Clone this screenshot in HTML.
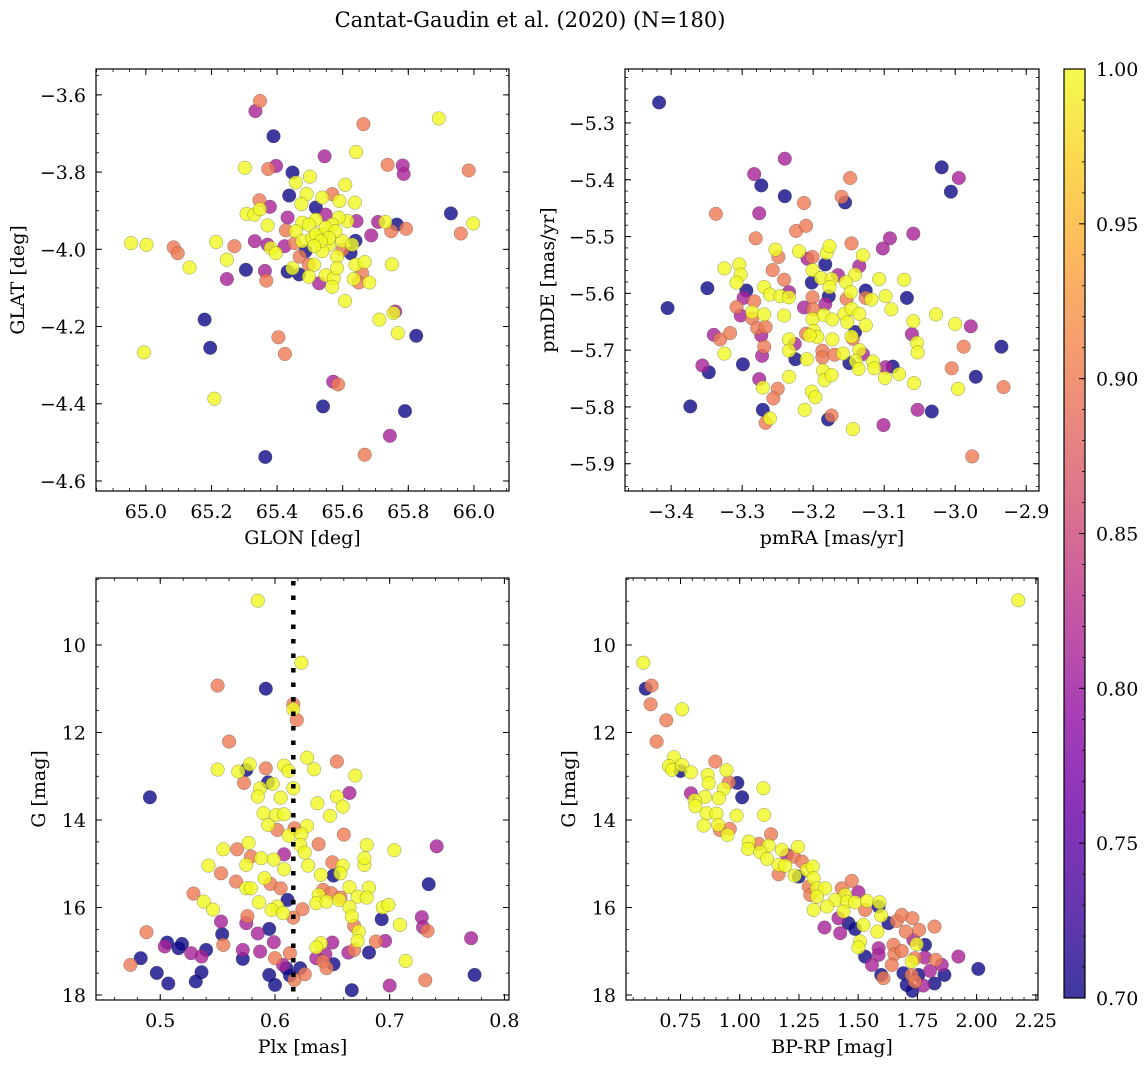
<!DOCTYPE html>
<html><head><meta charset="utf-8">
<style>
html,body{margin:0;padding:0;background:#fff;}
svg{display:block;font-family:"DejaVu Serif","Liberation Serif",serif;}
</style></head>
<body>
<svg id="fig" width="1148" height="1068" viewBox="0 0 1148 1068" xmlns="http://www.w3.org/2000/svg">
<defs>
<linearGradient id="plasmaGrad" x1="0" y1="1" x2="0" y2="0">
<stop offset="0" stop-color="#0d0887"/><stop offset="0.1" stop-color="#41049d"/><stop offset="0.2" stop-color="#6a00a8"/><stop offset="0.3" stop-color="#8f0da4"/><stop offset="0.4" stop-color="#b12a90"/><stop offset="0.5" stop-color="#cc4778"/><stop offset="0.6" stop-color="#e16462"/><stop offset="0.7" stop-color="#f2844b"/><stop offset="0.8" stop-color="#fca636"/><stop offset="0.9" stop-color="#fcce25"/><stop offset="1" stop-color="#f0f921"/>
</linearGradient>
</defs>
<text x="530" y="27" text-anchor="middle" font-size="21">Cantat-Gaudin et al. (2020) (N=180)</text>
</svg>
<script>
// colour codes: B=0.70, P=0.81, O=0.90, Y=1.00
const glonVals=[65.348,65.334,65.389,65.663,65.893,65.545,65.641,65.302,65.373,65.397,65.447,65.500,65.457,65.737,65.783,65.786,65.984,65.437,65.490,65.608,65.568,65.590,65.538,65.637,65.346,65.378,65.307,65.331,65.348,65.474,65.432,65.548,65.518,65.930,65.998,65.960,65.793,65.765,65.730,65.708,65.748,65.687,65.642,65.614,65.588,65.568,65.518,65.477,65.497,65.371,65.427,65.457,64.955,65.002,65.085,65.097,65.214,65.270,65.332,65.371,65.381,65.396,65.423,65.453,65.477,65.508,65.538,65.558,65.599,65.629,65.639,65.624,65.599,65.487,65.538,65.247,65.133,65.305,65.363,65.367,65.247,65.432,65.447,65.467,65.469,65.497,65.513,65.583,65.639,65.667,65.659,65.750,65.497,65.528,65.548,65.573,65.583,65.568,65.634,65.649,65.681,65.607,65.179,65.712,65.760,65.755,65.768,65.824,65.196,65.404,65.424,64.994,65.571,65.586,65.209,65.540,65.790,65.744,65.364,65.667,65.518,65.548,65.578,65.558,65.533,65.513];
const glatVals=[-3.616,-3.642,-3.707,-3.676,-3.661,-3.759,-3.748,-3.789,-3.792,-3.784,-3.801,-3.812,-3.827,-3.781,-3.783,-3.805,-3.796,-3.861,-3.857,-3.833,-3.857,-3.875,-3.866,-3.879,-3.873,-3.890,-3.908,-3.910,-3.896,-3.883,-3.918,-3.910,-3.892,-3.907,-3.933,-3.959,-3.947,-3.936,-3.929,-3.929,-3.953,-3.964,-3.927,-3.927,-3.918,-3.936,-3.923,-3.931,-3.936,-3.938,-3.951,-3.953,-3.984,-3.988,-3.995,-4.010,-3.981,-3.992,-3.979,-3.988,-3.997,-4.010,-3.992,-3.984,-3.979,-3.971,-3.962,-3.988,-3.979,-3.988,-3.978,-4.010,-4.001,-4.005,-4.005,-4.027,-4.047,-4.053,-4.056,-4.081,-4.077,-4.058,-4.049,-4.065,-4.019,-4.040,-4.040,-4.019,-4.040,-4.033,-4.062,-4.039,-4.071,-4.088,-4.067,-4.075,-4.049,-4.097,-4.077,-4.086,-4.086,-4.134,-4.182,-4.182,-4.161,-4.165,-4.217,-4.224,-4.255,-4.228,-4.271,-4.267,-4.343,-4.350,-4.387,-4.407,-4.419,-4.483,-4.538,-4.532,-3.962,-3.944,-3.953,-3.971,-3.979,-3.992];
const posProb="OPBOYPYYOPBYYOPPOBYYOYYYOPYYYYPPBBYOOBYPOPPYYYYYYYOYYYOOYOPPYYPOYYYYYYBBOBYYYBPOPBYBOOYYYYOYYPYYYYYOYYBYPYYBBOOYPOYBBPBOYYYYYY";

const pmraVals=[-3.417,-3.240,-3.283,-3.273,-3.240,-3.337,-3.276,-3.213,-3.148,-3.160,-3.155,-3.019,-2.995,-3.006,-3.224,-3.210,-3.281,-3.146,-3.092,-3.102,-3.059,-3.253,-3.249,-3.220,-3.201,-3.208,-3.181,-3.177,-3.183,-3.130,-3.135,-3.325,-3.304,-3.302,-3.308,-3.257,-3.241,-3.201,-3.202,-3.189,-3.174,-3.165,-3.141,-3.154,-3.177,-3.107,-3.072,-3.349,-3.405,-3.294,-3.298,-3.269,-3.261,-3.246,-3.234,-3.234,-3.201,-3.183,-3.178,-3.153,-3.147,-3.126,-3.126,-3.118,-3.098,-3.068,-3.090,-3.308,-3.283,-3.302,-3.286,-3.286,-3.269,-3.241,-3.213,-3.200,-3.201,-3.185,-3.173,-3.156,-3.146,-3.135,-3.126,-3.152,-3.027,-3.059,-3.000,-2.978,-3.340,-3.331,-3.317,-3.279,-3.267,-3.273,-3.210,-3.199,-3.194,-3.205,-3.173,-3.141,-3.146,-3.144,-3.061,-3.054,-3.053,-2.988,-2.935,-3.325,-3.272,-3.269,-3.234,-3.226,-3.234,-3.225,-3.209,-3.187,-3.187,-3.170,-3.158,-3.135,-3.130,-3.149,-3.140,-3.136,-3.116,-3.114,-3.098,-3.088,-3.099,-3.079,-3.058,-3.005,-2.971,-2.996,-2.932,-3.356,-3.347,-3.299,-3.276,-3.271,-3.250,-3.256,-3.234,-3.186,-3.184,-3.174,-3.202,-3.197,-3.212,-3.373,-3.271,-3.267,-3.261,-3.179,-3.174,-3.144,-3.101,-3.053,-3.033,-2.976];
const pmdeVals=[-5.264,-5.363,-5.390,-5.410,-5.429,-5.460,-5.459,-5.441,-5.397,-5.430,-5.440,-5.378,-5.397,-5.421,-5.490,-5.481,-5.503,-5.512,-5.503,-5.521,-5.495,-5.523,-5.536,-5.526,-5.536,-5.539,-5.529,-5.517,-5.549,-5.533,-5.552,-5.556,-5.549,-5.567,-5.581,-5.559,-5.576,-5.559,-5.581,-5.573,-5.575,-5.568,-5.567,-5.580,-5.589,-5.575,-5.576,-5.591,-5.626,-5.595,-5.608,-5.589,-5.602,-5.605,-5.598,-5.607,-5.607,-5.619,-5.605,-5.610,-5.598,-5.595,-5.608,-5.611,-5.605,-5.608,-5.628,-5.624,-5.614,-5.639,-5.633,-5.644,-5.637,-5.639,-5.625,-5.628,-5.645,-5.638,-5.646,-5.636,-5.627,-5.636,-5.656,-5.651,-5.637,-5.649,-5.654,-5.658,-5.673,-5.681,-5.670,-5.661,-5.659,-5.674,-5.671,-5.666,-5.677,-5.674,-5.681,-5.668,-5.676,-5.680,-5.672,-5.687,-5.704,-5.694,-5.694,-5.706,-5.710,-5.694,-5.681,-5.689,-5.701,-5.716,-5.716,-5.701,-5.713,-5.708,-5.706,-5.700,-5.707,-5.723,-5.719,-5.733,-5.720,-5.732,-5.730,-5.729,-5.749,-5.742,-5.758,-5.732,-5.747,-5.768,-5.765,-5.727,-5.739,-5.725,-5.751,-5.766,-5.768,-5.785,-5.747,-5.736,-5.753,-5.744,-5.773,-5.783,-5.805,-5.799,-5.805,-5.828,-5.820,-5.822,-5.815,-5.839,-5.832,-5.805,-5.808,-5.887];
const pmProb="BPPBBOPOOOBBPBOOOOPPPYOYOPYYBYPYYYYOOYBYYPYYYYYBBBPYYYPYOPBOYBOYYBYOOPYOYYPOYYYYYYYYYYYPPOOOOPOYYYYBYOPYYOBYPOYPYBYOOOYYPBYYYYPBYYYOBYOPBBPYOOYYYYYYYBBOYBOYPPBO";

const plxVals=[0.585,0.623,0.550,0.592,0.616,0.616,0.619,0.560,0.628,0.654,0.550,0.568,0.575,0.578,0.592,0.608,0.612,0.634,0.670,0.573,0.594,0.598,0.587,0.616,0.665,0.491,0.585,0.605,0.637,0.654,0.659,0.648,0.590,0.601,0.608,0.594,0.602,0.617,0.628,0.612,0.623,0.660,0.577,0.555,0.567,0.638,0.622,0.626,0.680,0.704,0.741,0.579,0.608,0.588,0.599,0.542,0.575,0.608,0.629,0.650,0.659,0.678,0.678,0.553,0.640,0.651,0.657,0.591,0.566,0.596,0.734,0.575,0.579,0.605,0.529,0.642,0.649,0.665,0.682,0.657,0.638,0.672,0.680,0.538,0.586,0.611,0.602,0.636,0.645,0.656,0.546,0.597,0.607,0.624,0.665,0.694,0.699,0.576,0.616,0.667,0.693,0.728,0.553,0.575,0.709,0.669,0.488,0.595,0.554,0.585,0.673,0.729,0.733,0.771,0.506,0.519,0.555,0.504,0.516,0.599,0.640,0.650,0.672,0.688,0.696,0.540,0.527,0.536,0.572,0.587,0.636,0.644,0.664,0.669,0.682,0.613,0.483,0.572,0.600,0.636,0.642,0.651,0.645,0.607,0.610,0.622,0.474,0.714,0.497,0.536,0.595,0.613,0.626,0.617,0.774,0.731,0.507,0.531,0.600,0.700,0.667];
const gmagA=[8.987,10.404,10.929,10.998,11.356,11.470,11.714,12.209,12.574,12.666,12.848,12.894,12.856,12.727,12.818,12.757,12.879,12.841,12.986,13.153,13.138,13.176,13.275,13.275,13.382,13.481,13.465,13.488,13.618,13.465,13.694,13.907,13.846,13.884,13.869,14.113,14.227,14.189,14.135,14.356,14.326,14.333,14.524,14.669,14.669,14.554,14.570,14.745,14.570,14.691,14.600,14.836,14.783,14.874,14.905,15.042,15.027,15.126,15.042,14.966,15.042,15.027,14.874,15.218,15.255,15.270,15.218,15.331,15.407,15.461,15.468,15.560,15.560,15.560,15.682,15.598,15.674,15.537,15.544,15.773,15.712,15.750,15.773,15.864,15.880,15.826,15.978,15.902,15.864,15.826,16.047,16.055,16.131,16.039,15.994,16.001,15.940,16.199,16.230,16.207,16.268,16.222,16.321,16.359,16.397,16.420,16.565,16.489,16.611,16.595,16.550,16.451,16.534,16.702,16.801,16.832,16.854,16.892,16.930,16.793,16.816,16.801,16.763,16.778,16.763,16.969,17.045,17.121,16.969,17.007,16.915,17.067,17.030,16.969,17.030,17.045,17.159,17.174,17.159,17.159,17.235,17.296,17.388,17.311,17.388,17.388,17.311,17.220,17.494,17.479,17.540,17.555,17.525,17.654,17.540,17.662,17.738,17.692,17.768,17.784,17.890];
const plxProb="YYOBOYOOYOYYBYOYYYYOBYYYPBYYYYYYYYYYOOYYYOYYOOYYYYPOPYYYYYYOYYYOYBYYOOBYYOOOOYYOYYYYYBYYYYYYYOYYYOOYBPPPYOOBBPYPOPBBOPBPYPYOPBPPPPYPPOBOBBOPOBOPBBOYBBBBOOBOBBBPB";
const plxRef=[0.616];

const bprpVals=[2.176,0.593,0.603,0.628,0.624,0.757,0.690,0.649,0.722,0.701,0.715,0.757,0.750,0.794,0.897,0.944,0.865,0.869,0.954,0.990,0.933,0.794,0.853,0.810,0.813,0.912,1.010,1.100,0.860,0.902,0.987,1.103,0.848,0.909,0.916,0.958,0.949,1.132,1.038,1.035,1.080,1.122,1.087,1.115,1.178,1.246,1.199,1.228,1.263,1.164,1.192,1.164,1.232,1.249,1.284,1.308,1.312,1.291,1.298,1.326,1.361,1.326,1.473,1.431,1.501,1.445,1.403,1.452,1.487,1.537,1.586,1.590,1.312,1.368,1.438,1.529,1.597,1.417,1.358,1.424,1.459,1.487,1.522,1.628,1.663,1.684,1.729,1.701,1.757,1.822,1.581,1.508,1.501,1.529,1.558,1.586,1.586,1.733,1.747,1.782,1.649,1.653,1.684,1.642,1.740,1.726,1.782,1.827,1.853,1.803,1.923,2.007,1.607,1.597,1.691,1.726,1.754,1.864,1.705,1.775,1.822,1.729,1.740];
const gmagB=[8.979,10.404,10.998,10.929,11.356,11.470,11.721,12.209,12.567,12.765,12.856,12.742,12.879,12.909,12.666,12.864,12.970,13.161,13.138,13.153,13.290,13.389,13.473,13.549,13.686,13.503,13.481,13.275,13.846,13.854,13.899,13.884,14.128,14.113,14.227,14.204,14.341,14.326,14.493,14.661,14.547,14.585,14.737,14.889,14.684,14.615,14.798,14.836,14.950,15.027,15.042,15.240,15.270,15.293,15.141,15.065,15.331,15.522,15.712,15.560,15.560,15.750,15.392,15.560,15.651,15.712,15.826,15.864,15.880,15.849,15.978,15.880,16.055,15.978,16.093,16.055,16.184,16.245,16.458,16.588,16.359,16.489,16.397,16.359,16.306,16.169,16.245,16.550,16.512,16.436,16.550,16.778,16.915,17.121,17.311,16.930,17.083,16.740,16.839,16.854,16.854,17.067,16.991,17.311,17.159,17.235,17.144,17.197,17.311,17.448,17.121,17.403,17.616,17.540,17.502,17.540,17.540,17.540,17.768,17.784,17.738,17.905,17.692];
const cmdProb="YYBOOYOOYYYYBYOYYYOBYPYYYYBYYYYYYYOOYOYYOYYYYYPOOYYOYBYYYOOYYYOOPYYYYYBYYYYOYPPPBBYBOOOOOOYYYBPPPPYBOOOOOYPOPPPBOBBOBBBPBBO";

const xTicksA=[65.0,65.2,65.4,65.6,65.8,66.0];
const yTicksA=[-3.6,-3.8,-4.0,-4.2,-4.4,-4.6];
const xTicksB=[-3.4,-3.3,-3.2,-3.1,-3.0,-2.9];
const yTicksB=[-5.3,-5.4,-5.5,-5.6,-5.7,-5.8,-5.9];
const xTicksC=[0.5,0.6,0.7,0.8];
const yTicksC=[10,12,14,16,18];
const xTicksD=[0.75,1.00,1.25,1.50,1.75,2.00,2.25];
const cbarTicks=[0.70,0.75,0.80,0.85,0.90,0.95,1.00];
const probCodes={B:0.70,P:0.81,O:0.90,Y:1.00};

const NS="http://www.w3.org/2000/svg";
const svg=document.getElementById('fig');
const plasma=["#0d0887","#41049d","#6a00a8","#8f0da4","#b12a90","#cc4778","#e16462","#f2844b","#fca636","#fcce25","#f0f921"];
function hex(h){return [1,3,5].map(i=>parseInt(h.substr(i,2),16));}
function cmap(v){let t=Math.max(0,Math.min(1,(v-0.7)/0.3))*10;let i=Math.min(9,Math.floor(t));let f=t-i;let a=hex(plasma[i]),b=hex(plasma[i+1]);return "rgb("+a.map((c,k)=>Math.round(c+(b[k]-c)*f)).join(",")+")";}
function mk(tag,attrs,parent){const e=document.createElementNS(NS,tag);for(const k in attrs)e.setAttribute(k,attrs[k]);(parent||svg).appendChild(e);return e;}
function fmt(v,d){return (v<0?"\u2212":"")+Math.abs(v).toFixed(d);}

function panel(cfg){
  const {x0,y0,x1,y1,xmin,xmax,ymin,ymax,name}=cfg;
  const sx=v=>x0+(v-xmin)/(xmax-xmin)*(x1-x0);
  const sy=v=>y1-(v-ymin)/(ymax-ymin)*(y1-y0);
  const g=mk('g',{});
  
  
  const n=Math.min(cfg.xs.length,cfg.ys.length);
  const idx=[];for(let i=0;i<n;i++)idx.push(i);
  const val=i=>probCodes[cfg.cs[i]]||1;
  idx.sort((a,b)=>val(a)-val(b));
  const pg=mk('g',{},g);
  
  
  idx.forEach(i=>{
    const c=mk('circle',{cx:sx(cfg.xs[i]).toFixed(1),cy:sy(cfg.ys[i]).toFixed(1),r:6.8,fill:cmap(val(i)),'fill-opacity':0.8,stroke:'#444','stroke-opacity':0.55,'stroke-width':0.5},pg);
    
    
  });
  if(cfg.vline!==undefined){
    const l=mk('line',{x1:sx(cfg.vline),x2:sx(cfg.vline),y1:y0+3,y2:y1,stroke:'#000','stroke-width':4.5,'stroke-dasharray':'4.5 10'},g);
    
    
  }
  const fr=mk('rect',{x:x0,y:y0,width:x1-x0,height:y1-y0,fill:'none',stroke:'#000','stroke-width':1.2},g);
  
  
  const lo=Math.min(xmin,xmax),hi=Math.max(xmin,xmax);
  for(let k=Math.ceil(lo/cfg.xminor-1e-6);k*cfg.xminor<=hi+1e-9;k++){
    const X=sx(k*cfg.xminor);
    mk('line',{x1:X,x2:X,y1:y1,y2:y1-3,stroke:'#000','stroke-width':0.8},g);
    mk('line',{x1:X,x2:X,y1:y0,y2:y0+3,stroke:'#000','stroke-width':0.8},g);
  }
  const ylo=Math.min(ymin,ymax),yhi=Math.max(ymin,ymax);
  for(let k=Math.ceil(ylo/cfg.yminor-1e-6);k*cfg.yminor<=yhi+1e-9;k++){
    const Y=sy(k*cfg.yminor);
    mk('line',{x1:x0,x2:x0+3,y1:Y,y2:Y,stroke:'#000','stroke-width':0.8},g);
    mk('line',{x1:x1,x2:x1-3,y1:Y,y2:Y,stroke:'#000','stroke-width':0.8},g);
  }
  cfg.xticks.forEach(v=>{
    const X=sx(v);
    mk('line',{x1:X,x2:X,y1:y1,y2:y1-6,stroke:'#000','stroke-width':1},g);
    mk('line',{x1:X,x2:X,y1:y0,y2:y0+6,stroke:'#000','stroke-width':1},g);
    const t=mk('text',{x:X,y:y1+27,'text-anchor':'middle','font-size':19},g);
    t.textContent=fmt(v,cfg.xd);
    
    
  });
  cfg.yticks.forEach(v=>{
    const Y=sy(v);
    mk('line',{x1:x0,x2:x0+6,y1:Y,y2:Y,stroke:'#000','stroke-width':1},g);
    mk('line',{x1:x1,x2:x1-6,y1:Y,y2:Y,stroke:'#000','stroke-width':1},g);
    const t=mk('text',{x:x0-10,y:Y+7,'text-anchor':'end','font-size':19},g);
    t.textContent=fmt(v,cfg.yd);
    
    
  });
  const xl=mk('text',{x:(x0+x1)/2,y:y1+53,'text-anchor':'middle','font-size':19},g);
  xl.textContent=cfg.xlabel;
  
  
  const yx=cfg.ylx, yy=(y0+y1)/2;
  const yl=mk('text',{x:yx,y:yy,'text-anchor':'middle','font-size':19,transform:'rotate(-90 '+yx+' '+yy+')'},g);
  yl.textContent=cfg.ylabel;
  
  
}

panel({name:'glon-glat-panel',x0:96,y0:69,x1:509,y1:491,xmin:64.848,xmax:66.107,ymin:-4.626,ymax:-3.533,xs:glonVals,ys:glatVals,cs:posProb,xticks:xTicksA,yticks:yTicksA,xminor:0.05,yminor:0.05,xd:1,yd:1,xlabel:'GLON [deg]',ylabel:'GLAT [deg]',ylx:24});
panel({name:'pm-panel',x0:625,y0:69,x1:1039,y1:491,xmin:-3.465,xmax:-2.882,ymin:-5.948,ymax:-5.205,xs:pmraVals,ys:pmdeVals,cs:pmProb,xticks:xTicksB,yticks:yTicksB,xminor:0.02,yminor:0.02,xd:1,yd:1,xlabel:'pmRA [mas/yr]',ylabel:'pmDE [mas/yr]',ylx:554});
panel({name:'plx-g-panel',x0:96,y0:578,x1:509,y1:1000,xmin:0.444,xmax:0.804,ymin:18.114,ymax:8.469,xs:plxVals,ys:gmagA,cs:plxProb,xticks:xTicksC,yticks:yTicksC,xminor:0.02,yminor:0.5,xd:1,yd:0,xlabel:'Plx [mas]',ylabel:'G [mag]',ylx:45,vline:plxRef[0]});
panel({name:'cmd-panel',x0:626,y0:578,x1:1038,y1:1000,xmin:0.520,xmax:2.259,ymin:18.114,ymax:8.469,xs:bprpVals,ys:gmagB,cs:cmdProb,xticks:xTicksD,yticks:yTicksC,xminor:0.05,yminor:0.5,xd:2,yd:0,xlabel:'BP-RP [mag]',ylabel:'G [mag]',ylx:575});

(function(){
  const cx0=1064,cx1=1085,cy0=69,cy1=998;
  const cy=v=>cy1-(v-0.7)/0.3*(cy1-cy0);
  const g=mk('g',{});
  
  
  mk('rect',{x:cx0,y:cy0,width:cx1-cx0,height:cy1-cy0,fill:'url(#plasmaGrad)','fill-opacity':0.8},g);
  mk('rect',{x:cx0,y:cy0,width:cx1-cx0,height:cy1-cy0,fill:'none',stroke:'#000','stroke-width':1.2},g);
  for(let i=1;i<30;i++){const Y=cy(0.7+i*0.01);mk('line',{x1:cx1,x2:cx1-3,y1:Y,y2:Y,stroke:'#000','stroke-width':0.8},g);}
  cbarTicks.forEach(v=>{
    const Y=cy(v);
    mk('line',{x1:cx1,x2:cx1-6,y1:Y,y2:Y,stroke:'#000','stroke-width':1},g);
    const t=mk('text',{x:1096,y:Y+7,'font-size':19},g);
    t.textContent=v.toFixed(2);
    
    
  });
})();
</script>
</body></html>
